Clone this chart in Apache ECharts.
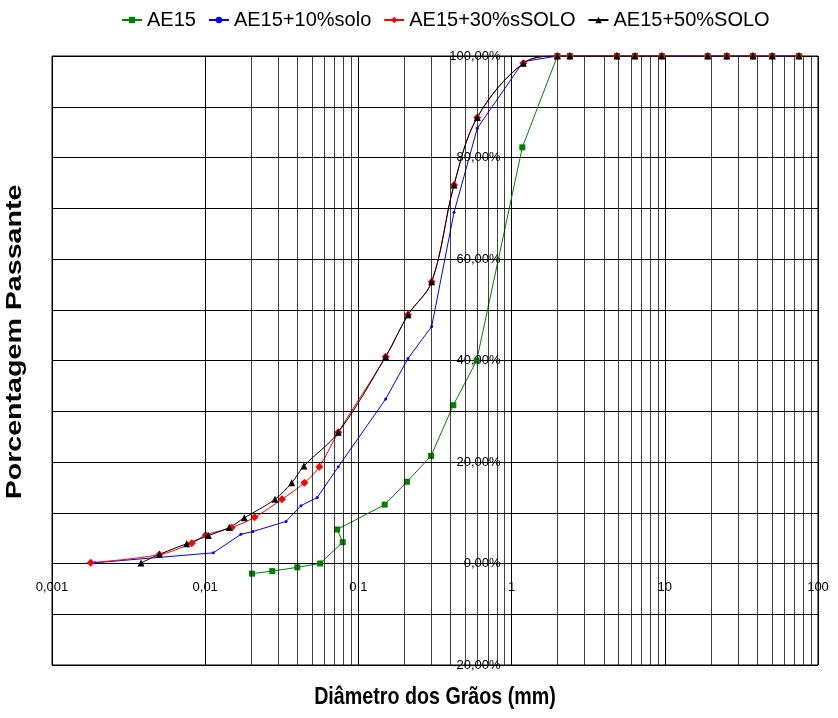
<!DOCTYPE html>
<html><head><meta charset="utf-8">
<script src="https://cdn.jsdelivr.net/npm/echarts@6/dist/echarts.min.js"></script>
<style>html,body{margin:0;padding:0;background:#fff}#c{width:838px;height:718px}</style>
</head><body><div id="c"></div>
<script>
// ---- data (diameter in mm, percent passing) ----
const seriesNames = ['AE15', 'AE15+10%solo', 'AE15+30%sSOLO', 'AE15+50%SOLO'];
const coarseX = [1.99, 2.4, 4.87, 6.39, 9.55, 19.05, 25.4, 37.6, 50.3, 75.1];
const coarseY = [100, 100, 100, 100, 100, 100, 100, 100, 100, 100];

const ae15X = [0.0202, 0.0274, 0.0399, 0.0563, 0.079, 0.0727, 0.1485, 0.2074, 0.298, 0.4164, 0.5916, 1.175];
const ae15Y = [-2.0, -1.5, -0.75, 0.0, 4.2, 6.7, 11.6, 16.1, 21.2, 31.2, 40.0, 82.0];

const s10X = [0.00191, 0.0113, 0.0171, 0.0205, 0.0337, 0.0422, 0.0539, 0.0739, 0.1507, 0.2108, 0.3008, 0.421, 0.597, 1.193];
const s10Y = [0.15, 2.1, 5.75, 6.3, 8.3, 11.4, 13.0, 19.07, 32.4, 40.4, 46.7, 69.2, 85.75, 98.9];

const s30X = [0.00179, 0.00502, 0.00817, 0.01008, 0.0149, 0.021, 0.0317, 0.0444, 0.0556, 0.0739, 0.1507, 0.2108, 0.3008, 0.421, 0.597, 1.193];
const s30Y = [0.16, 1.75, 4.0, 5.6, 7.1, 9.1, 12.65, 15.9, 19.07, 25.85, 40.75, 49.0, 55.5, 74.6, 87.9, 98.56];

const s50X = [0.00381, 0.00502, 0.00757, 0.01048, 0.01436, 0.018, 0.02855, 0.0367, 0.0441, 0.0739, 0.1507, 0.2108, 0.3008, 0.421, 0.597, 1.193];
const s50Y = [0.1, 1.8, 3.9, 5.5, 7.1, 9.0, 12.65, 15.9, 19.2, 25.85, 40.75, 49.0, 55.5, 74.6, 87.9, 98.56];

const xTickLabels = ['0,001', '0,01', '0,1', '1', '10', '100'];
const minorMultipliers = [2, 3, 4, 5, 6, 7, 8, 9];
const decadeStarts = [0.001, 0.01, 0.1, 1, 10];

// ---- build ----
function zip(xs, ys) {
  const all = xs.map((x, i) => [x, ys[i]]);
  return all.concat(coarseX.map((x, i) => [x, coarseY[i]]));
}
const FONT = '"Liberation Sans", Arial, sans-serif';
const minorLines = [];
decadeStarts.forEach(d => minorMultipliers.forEach(m => minorLines.push({ xAxis: +(d * m).toPrecision(3) })));

const chart = echarts.init(document.getElementById('c'), null, { renderer: 'canvas' });
chart.setOption({
  animation: false,
  backgroundColor: '#fff',
  textStyle: { fontFamily: FONT },
  grid: { left: 52, right: 20, top: 56, bottom: 53, show: true, borderColor: '#000', borderWidth: 1 },
  legend: {
    data: seriesNames,
    top: 5, left: 116,
    itemWidth: 20, itemHeight: 8, itemGap: 12,
    textStyle: { fontSize: 20, fontFamily: FONT, color: '#000' }
  },
  xAxis: {
    type: 'log', logBase: 10, min: 0.001, max: 100,
    position: 'bottom', offset: -101.5,
    axisLine: { show: true, onZero: false, lineStyle: { color: '#000', width: 1 } },
    axisTick: { show: false },
    splitLine: { show: true, lineStyle: { color: '#000', width: 1 } },
    axisLabel: {
      margin: 17, fontSize: 13, color: '#000', fontFamily: FONT,
      formatter: v => xTickLabels[Math.round(Math.log10(v)) + 3]
    }
  },
  yAxis: {
    type: 'value', min: -20, max: 100, interval: 10,
    position: 'left', offset: -459.6,
    axisLine: { show: true, onZero: false, lineStyle: { color: '#000', width: 1 } },
    axisTick: { show: true, length: 4, lineStyle: { color: '#000' } },
    splitLine: { show: true, lineStyle: { color: '#000', width: 1 } },
    axisLabel: {
      margin: 11, fontSize: 13, color: '#000', fontFamily: FONT,
      formatter: v => (Math.round(v) % 20 === 0 ? v.toFixed(2).replace('.', ',') + '%' : '')
    }
  },
  graphic: [
    { type: 'text', x: 435, y: 697, scaleX: 0.82, scaleY: 1,
      style: { text: 'Diâmetro dos Grãos (mm)', font: 'bold 24px ' + FONT, fill: '#000', textAlign: 'center', verticalAlign: 'middle' } },
    { type: 'text', x: 15, y: 342, rotation: Math.PI / 2, scaleX: 1.3, scaleY: 1,
      style: { text: 'Porcentagem Passante', font: 'bold 22px ' + FONT, fill: '#000', textAlign: 'center', verticalAlign: 'middle' } }
  ],
  series: [
    {
      name: seriesNames[0], type: 'line', data: zip(ae15X, ae15Y),
      symbol: 'rect', symbolSize: 6, showAllSymbol: true,
      lineStyle: { color: '#008000', width: 1 }, itemStyle: { color: '#008000' },
      markLine: { silent: true, symbol: ['none', 'none'], label: { show: false }, animation: false,
        lineStyle: { color: '#000', width: 1, type: 'solid', opacity: 0.75 }, data: minorLines }
    },
    {
      name: seriesNames[1], type: 'line', data: zip(s10X, s10Y),
      symbol: 'circle', symbolSize: 3, showAllSymbol: true,
      lineStyle: { color: '#0000FF', width: 1 }, itemStyle: { color: '#0000FF' }
    },
    {
      name: seriesNames[2], type: 'line', data: zip(s30X, s30Y), smooth: 0.35,
      symbol: 'diamond', symbolSize: 8, showAllSymbol: true,
      lineStyle: { color: '#FF0000', width: 1 }, itemStyle: { color: '#FF0000' }
    },
    {
      name: seriesNames[3], type: 'line', data: zip(s50X, s50Y), smooth: 0.35,
      symbol: 'triangle', symbolSize: 7, showAllSymbol: true,
      lineStyle: { color: '#000000', width: 1 }, itemStyle: { color: '#000000' }
    }
  ]
});
</script></body></html>
